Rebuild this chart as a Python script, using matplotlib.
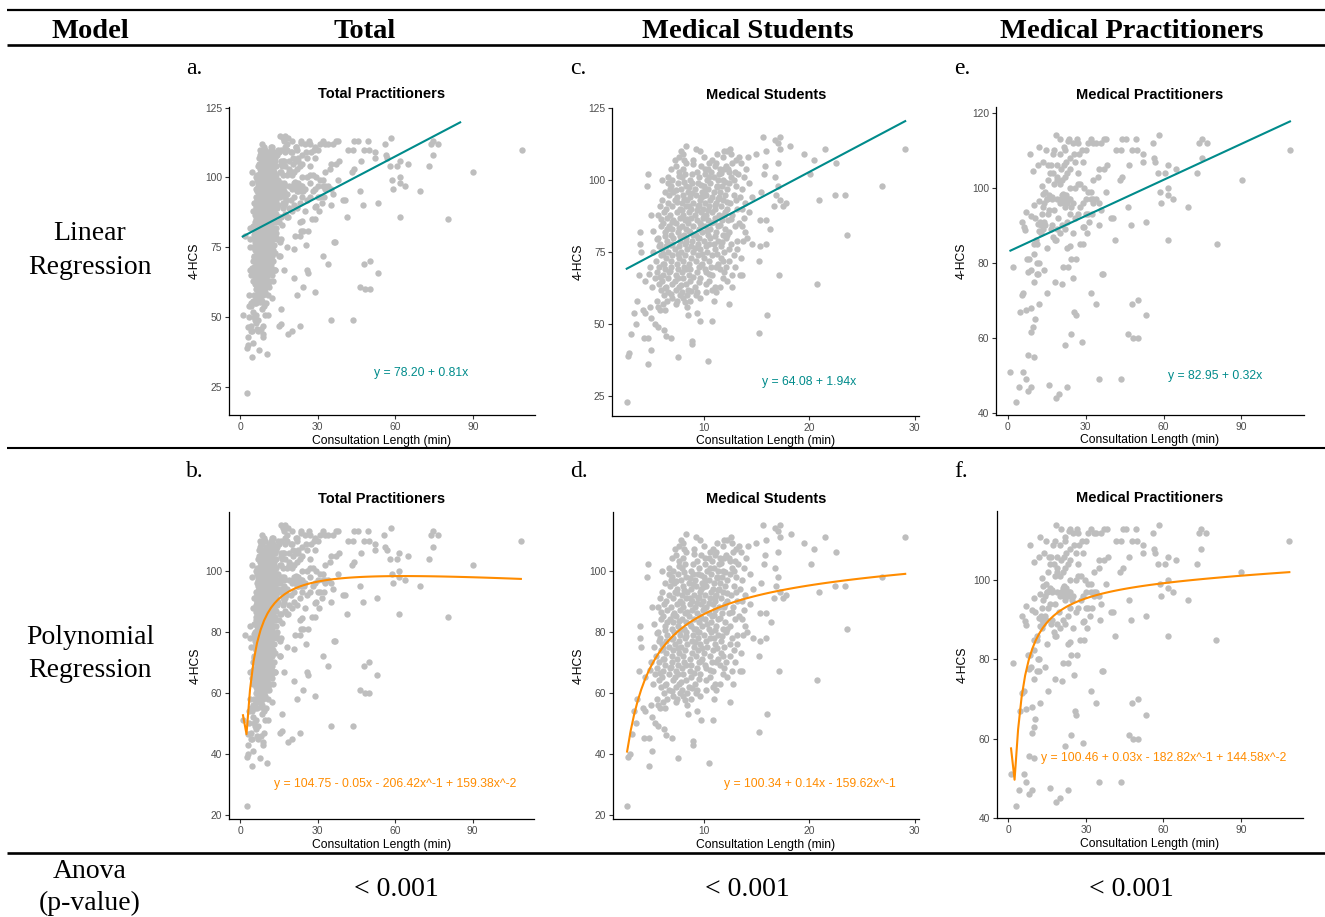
import numpy as np
import matplotlib
matplotlib.use("Agg")
import matplotlib.pyplot as plt

# ------------------------------------------------------------------ data
# Medical students: (consultation length [min], 4-HCS score)
students_pts = [
    (15.6, 115), (17.2, 115), (16.7, 114), (17.0, 113), (8.3, 112), (18.2, 112),
    (9.2, 111), (12.5, 111), (21.5, 111), (29.1, 111), (17.2, 111),
    (9.6, 110), (12.2, 110), (11.9, 110), (15.9, 110),
    (8.0, 109), (12.6, 109), (19.5, 109), (11.2, 109), (14.9, 109),
    (7.6, 108), (10.0, 108), (11.8, 108), (13.3, 108), (14.2, 108),
    (7.2, 107), (8.1, 107), (9.0, 107), (13.0, 107), (20.4, 107),
    (8.3, 106), (10.5, 106), (11.1, 106), (12.7, 106), (13.5, 106), (22.5, 106), (17.0, 106),
    (7.3, 105), (9.7, 105), (11.0, 105), (12.1, 105), (15.8, 105),
    (8.0, 104), (10.4, 104), (11.5, 104), (11.9, 104), (12.3, 104),
    (7.6, 103), (9.3, 103), (10.7, 103), (12.9, 103),
    (4.65, 102), (8.2, 102), (10.1, 102), (11.4, 102), (20.1, 102), (13.2, 102), (15.7, 102),
    (6.6, 101), (7.9, 101), (9.5, 101), (10.9, 101), (12.6, 101), (13.8, 101), (16.7, 101),
    (7.0, 100), (8.7, 100), (10.3, 100), (11.3, 100), (11.8, 100), (6.0, 100),
    (6.6, 99), (7.5, 99), (8.9, 99), (9.4, 99), (10.6, 99), (12.4, 99),
    (4.56, 98), (6.9, 98), (8.3, 98), (10.0, 98), (11.2, 98), (11.7, 98), (13.0, 98), (17.05, 98), (26.9, 98),
    (7.8, 97), (9.1, 97), (10.4, 97), (12.2, 97), (13.6, 97),
    (6.3, 96), (7.1, 96), (8.5, 96), (9.8, 96), (10.9, 96), (11.5, 96), (15.4, 96),
    (6.7, 95), (8.0, 95), (9.2, 95), (10.2, 95), (12.0, 95), (12.8, 95), (22.4, 95), (23.4, 95), (16.8, 95),
    (7.4, 94), (8.7, 94), (9.7, 94), (10.8, 94), (11.4, 94), (13.4, 94),
    (6.0, 93), (7.2, 93), (8.4, 93), (9.6, 93), (10.6, 93), (11.8, 93), (20.9, 93), (17.2, 93),
    (6.6, 92), (7.9, 92), (9.0, 92), (10.1, 92), (11.1, 92), (12.5, 92), (17.8, 92), (13.9, 92),
    (5.8, 91), (7.0, 91), (8.3, 91), (9.4, 91), (10.5, 91), (11.6, 91), (16.6, 91), (17.5, 91),
    (6.4, 90), (7.7, 90), (8.8, 90), (9.9, 90), (11.0, 90), (12.2, 90), (13.1, 90),
    (6.2, 89), (7.4, 89), (8.6, 89), (9.7, 89), (10.8, 89), (12.0, 89), (14.3, 89),
    (5.6, 88), (6.8, 88), (8.0, 88), (9.1, 88), (10.2, 88), (11.4, 88), (12.7, 88),
    (6.5, 87), (7.7, 87), (8.8, 87), (9.9, 87), (11.0, 87), (13.8, 87),
    (7.1, 86), (8.2, 86), (9.3, 86), (10.4, 86), (11.7, 86), (12.3, 86), (15.3, 86), (15.9, 86),
    (6.1, 85), (7.3, 85), (8.5, 85), (9.6, 85), (10.7, 85), (13.3, 85),
    (5.9, 84), (6.7, 84), (7.9, 84), (9.0, 84), (10.1, 84), (11.3, 84), (13.6, 84),
    (7.0, 83), (8.3, 83), (9.5, 83), (10.6, 83), (12.0, 83), (16.3, 83),
    (3.9, 82), (6.3, 82), (7.5, 82), (8.7, 82), (9.8, 82), (11.1, 82), (12.4, 82),
    (6.9, 81), (8.1, 81), (9.2, 81), (10.4, 81), (11.8, 81), (23.6, 81),
    (5.6, 80), (7.1, 80), (8.3, 80), (9.5, 80), (10.6, 80), (12.1, 80), (14.05, 80),
    (6.5, 79), (7.7, 79), (8.9, 79), (10.0, 79), (11.3, 79), (13.7, 79),
    (3.9, 78), (5.8, 78), (7.0, 78), (8.2, 78), (9.4, 78), (10.9, 78), (12.6, 78), (14.6, 78), (15.9, 78),
    (6.4, 77), (7.6, 77), (8.8, 77), (10.2, 77), (11.6, 77), (15.3, 77),
    (6.0, 76), (7.2, 76), (8.4, 76), (9.6, 76), (11.0, 76), (13.1, 76),
    (4.0, 75), (5.2, 75), (6.6, 75), (7.8, 75), (9.0, 75), (10.3, 75), (11.9, 75),
    (5.9, 74), (7.0, 74), (8.2, 74), (9.4, 74), (10.8, 74), (12.8, 74),
    (6.4, 73), (7.6, 73), (8.8, 73), (10.0, 73), (11.6, 73), (13.5, 73),
    (5.4, 72), (6.9, 72), (8.0, 72), (9.2, 72), (10.5, 72), (12.4, 72), (15.2, 72),
    (6.2, 71), (7.4, 71), (8.6, 71), (9.8, 71), (11.3, 71),
    (4.9, 70), (5.7, 70), (6.9, 70), (8.1, 70), (9.5, 70), (10.7, 70), (12.1, 70),
    (6.3, 69), (7.5, 69), (8.7, 69), (10.1, 69), (11.5, 69),
    (5.5, 68), (6.7, 68), (7.9, 68), (9.3, 68), (10.2, 68), (11.9, 68),
    (3.8, 67), (6.1, 67), (7.3, 67), (8.6, 67), (10.8, 67), (13.4, 67), (13.6, 67), (17.1, 67), (12.65, 67),
    (5.3, 66), (6.6, 66), (8.0, 66), (9.6, 66), (11.8, 66),
    (4.4, 65), (6.0, 65), (7.2, 65), (8.7, 65), (10.5, 65), (12.2, 65),
    (5.7, 64), (7.0, 64), (8.3, 64), (10.2, 64), (20.7, 64),
    (6.4, 63), (7.6, 63), (9.1, 63), (11.0, 63), (12.7, 63), (11.5, 63),
    (5.9, 62), (7.3, 62), (8.5, 62), (10.8, 62),
    (6.6, 61), (7.9, 61), (9.3, 61), (11.1, 61),
    (6.2, 60), (7.7, 60), (8.4, 60), (9.2, 60), (7.0, 59), (8.0, 59),
    (3.6, 58), (5.5, 58), (6.5, 58), (8.7, 58), (10.9, 58),
    (6.1, 57), (7.3, 57), (12.4, 57), (4.9, 56), (5.6, 56), (8.4, 56),
    (4.2, 55), (5.8, 55), (6.3, 55), (3.35, 54), (4.4, 54), (9.3, 54),
    (8.45, 53), (16.0, 53), (5.0, 52), (9.65, 51), (10.8, 51), (3.5, 50), (5.3, 50),
    (5.6, 49), (6.2, 48), (15.2, 47), (3.1, 46.5), (6.4, 46),
    (4.3, 45), (4.7, 45), (6.9, 45), (8.9, 44), (8.9, 43), (5.0, 41),
    (2.9, 40), (2.75, 39), (7.5, 38.5), (10.4, 37), (4.7, 36), (2.66, 23),
]

# Medical students, the dense core of the cloud
students_core_pts = [
    (6.8, 97), (7.4, 92.5), (8.1, 93.5), (8.6, 91), (9.3, 89.5), (9.9, 94.5), (10.4, 89.5),
    (11.0, 91.5), (7.0, 85.5), (7.6, 83.5), (8.4, 86.5), (9.0, 81), (9.7, 84.5), (10.3, 82.5),
    (11.0, 80.5), (11.5, 84.5), (6.3, 80.5), (6.9, 77.5), (7.5, 74.5), (8.3, 78.5), (9.1, 76.5),
    (9.8, 74.5), (10.5, 78), (11.2, 74.5), (6.1, 71), (6.8, 68.5), (7.5, 66), (8.3, 69),
    (9.0, 66.5), (9.7, 70.5), (10.5, 67.5), (7.8, 63.5), (8.8, 61.5), (9.5, 64.5), (7.3, 96.5),
    (8.1, 99.5), (8.9, 102), (9.7, 98.5), (10.5, 101), (11.2, 97.5), (12.0, 99.5), (9.0, 105.5),
    (10.1, 104), (10.8, 107), (11.6, 102.5), (12.4, 103), (7.9, 89.5), (8.9, 95.5), (10.1, 96.5),
    (11.3, 93.5), (12.2, 92.5), (12.6, 86.5), (11.9, 88), (12.9, 84), (12.2, 81), (11.7, 78.5),
    (12.4, 76), (11.8, 72), (11.1, 70), (6.5, 83), (5.9, 86.5), (5.5, 79.5), (5.7, 77),
    (6.1, 74.5), (5.2, 82.5), (5.0, 88), (4.8, 67.5), (5.1, 63), (5.8, 66.5), (6.3, 62.5),
    (6.9, 60.5), (7.4, 58), (8.2, 57.5), (9.6, 59), (10.2, 61), (9.4, 80), (8.6, 82.5),
    (7.7, 80.5), (10.9, 85.5), (10.0, 87.5), (9.5, 91.5), (8.6, 97.5), (7.6, 101.5), (6.9, 104),
    (7.8, 110), (13.0, 93), (13.6, 90), (12.8, 100), (14.0, 104), (13.1, 79), (12.9, 70),
    (13.9, 82), (14.6, 94), (14.3, 99),
]

# Medical practitioners: (consultation length [min], 4-HCS score)
practitioners_pts = [
    (1.05, 51), (1.9, 79), (3.1, 43), (4.2, 47), (4.7, 67), (5.4, 71.5), (6.0, 72), (5.4, 91),
    (6.0, 51), (6.3, 89.7), (6.7, 88.8), (7.0, 49), (7.0, 93.5), (7.0, 67.5), (7.6, 81), (8.3, 81),
    (7.9, 55.5), (8.0, 46), (8.5, 109), (8.0, 77.7), (8.9, 78), (9.0, 47), (9.0, 68), (9.0, 61.5),
    (9.9, 63), (10.1, 55), (9.1, 92.5), (10.1, 95.5), (9.9, 104.5), (10.1, 82.5), (10.1, 75),
    (10.5, 65), (10.1, 85), (11.2, 85), (11.4, 80), (11.2, 77), (11.8, 77), (12.1, 69), (12.1, 96.5),
    (11.8, 106), (12.1, 111), (11.8, 90.5), (12.2, 88.5), (13.1, 93), (13.1, 100.5), (13.5, 98.5),
    (14.1, 78), (13.7, 107), (14.6, 110), (15.0, 84), (15.0, 97), (15.3, 72), (15.7, 106),
    (16.0, 47.5), (16.3, 104), (16.9, 97.5), (17.3, 109), (18.2, 75), (18.2, 86), (18.6, 114),
    (18.6, 44), (18.9, 103), (19.9, 45), (20.2, 113), (20.9, 74.5), (21.2, 79), (21.4, 98.5),
    (21.8, 111), (22.1, 58), (23.0, 47), (23.1, 79), (23.4, 112.5), (23.7, 113), (24.0, 84.5),
    (24.3, 61), (24.3, 81), (25.3, 76), (25.7, 67), (26.2, 66), (26.4, 81), (26.6, 113),
    (27.3, 109), (27.9, 85), (29.1, 85), (28.8, 59), (28.9, 89.5), (29.4, 89.7), (29.5, 100),
    (30.0, 110), (30.8, 112), (32.0, 72), (33.9, 69), (35.2, 49), (35.3, 90), (34.9, 103),
    (35.9, 112), (36.2, 77), (36.8, 77), (37.9, 99), (38.4, 106), (39.7, 92), (40.4, 92),
    (41.3, 86), (41.6, 110), (43.5, 110), (43.6, 49), (43.3, 102), (44.2, 103), (44.2, 113),
    (45.6, 113), (46.5, 95), (46.6, 106), (46.5, 61), (47.4, 90), (48.0, 69), (48.4, 60),
    (50.0, 60), (50.0, 70), (48.0, 110), (49.4, 113), (49.7, 110), (52.1, 109), (52.1, 107),
    (53.1, 91), (53.1, 66), (55.8, 112), (56.2, 108), (56.7, 107), (58.0, 104), (58.4, 114),
    (58.7, 99), (59.1, 96), (60.6, 104), (61.6, 106), (61.6, 100), (61.6, 98), (61.6, 86),
    (63.8, 97), (64.8, 105), (69.6, 95), (73.0, 104), (73.7, 112), (74.7, 113), (74.7, 108),
    (76.6, 112), (80.5, 85), (90.1, 102), (108.7, 110),
    (13, 90), (13.5, 89), (14, 91), (14.5, 90), (15.5, 93), (16, 94), (16.5, 89), (17, 90),
    (17.5, 87), (18.5, 86), (19, 89), (19.5, 92), (20, 96), (20.5, 97), (21, 98), (21.5, 96),
    (22, 97), (22.5, 98), (23, 96), (23.5, 97), (20, 101), (21, 102), (22, 103), (23, 104),
    (24, 105), (19, 102), (18, 101), (17.5, 104), (16.5, 106), (15.5, 102), (14.5, 99),
    (13.5, 95), (20.5, 105), (21.5, 106), (22.5, 107), (24, 108), (25.5, 109), (26, 107),
    (27, 104), (28, 101), (29, 96), (30, 97), (31, 99), (32, 97), (33, 97), (28, 95), (27, 93),
    (26, 92), (25, 96), (24.5, 95), (24, 93), (23, 91), (22, 89), (21, 90), (20, 88), (18, 94),
    (17, 97), (16, 98), (15, 97), (14, 96), (28.5, 110), (32, 113), (33, 112), (34, 112),
    (37, 113), (38, 113), (25, 112), (22, 110), (20, 109), (18, 110), (19, 106), (24, 100),
    (26, 100), (27, 101), (25, 88), (23, 84), (30.5, 88), (31.5, 91), (30, 93), (32.5, 93),
    (35, 96), (34, 97), (36, 94), (37, 105), (35, 105), (33, 102), (29, 107), (27, 112),
    (11, 86), (12, 80), (10.5, 92), (12.5, 91), (13, 88), (19, 97), (22, 95), (24, 97),
    (31, 93), (32, 99), (33, 96),
]

students_x, students_y = np.array(students_pts + students_core_pts, dtype=float).T
pract_x, pract_y = np.array(practitioners_pts, dtype=float).T
total_x = np.concatenate([students_x, pract_x])
total_y = np.concatenate([students_y, pract_y])

# linear fits as drawn (intercept, slope, x-end) and printed labels
lin_total = (78.4, 0.486, 85.0)
lin_students = (64.08, 1.94, None)
lin_pract = (82.95, 0.32, None)
lin_labels = ["y = 78.20 + 0.81x", "y = 64.08 + 1.94x", "y = 82.95 + 0.32x"]

# polynomial fits: y = a + b x + c/x + d/x^2
poly_total = (104.75, -0.05, -206.42, 159.38)
poly_students = (100.34, 0.14, -159.62, 0.0)
poly_pract = (100.46, 0.03, -182.82, 144.58)
poly_labels = ["y = 104.75 - 0.05x - 206.42x^-1 + 159.38x^-2",
               "y = 100.34 + 0.14x - 159.62x^-1",
               "y = 100.46 + 0.03x - 182.82x^-1 + 144.58x^-2"]

panel_titles = ["Total Practitioners", "Medical Students", "Medical Practitioners"]
col_headers = ["Model", "Total", "Medical Students", "Medical Practitioners"]
row_labels = [["Linear", "Regression"], ["Polynomial", "Regression"], ["Anova", "(p-value)"]]
anova_p = ["< 0.001", "< 0.001", "< 0.001"]
letters_top = ["a.", "c.", "e."]
letters_bot = ["b.", "d.", "f."]

# ------------------------------------------------------------------ figure
W, H = 1325, 917
fig = plt.figure(figsize=(W / 100, H / 100), dpi=100)
fig.patch.set_facecolor("white")

SERIF = ["Liberation Serif", "DejaVu Serif"]
SANS = ["Liberation Sans", "DejaVu Sans"]

bg = fig.add_axes([0, 0, 1, 1])
bg.set_xlim(0, W)
bg.set_ylim(H, 0)
bg.axis("off")
for yy, lw in [(10, 1.6), (44.5, 1.9), (448, 1.5), (852.5, 1.9)]:
    bg.plot([7, W], [yy, yy], color="black", lw=lw, solid_capstyle="butt")

header_x = [90, 365, 748, 1132]
for hx, ht in zip(header_x, col_headers):
    bg.text(hx, 38.3, ht, ha="center", va="baseline", fontsize=20.5,
            fontweight="bold", family=SERIF)

row_baselines = [(240, 273.5), (643.5, 677), (878.5, 910.5)]
for (b1, b2), lab in zip(row_baselines, row_labels):
    bg.text(90, b1, lab[0], ha="center", va="baseline", fontsize=20, family=SERIF)
    bg.text(90, b2, lab[1], ha="center", va="baseline", fontsize=20, family=SERIF)

for px, pt in zip([396, 747, 1131], anova_p):
    bg.text(px, 896.5, pt, ha="center", va="baseline", fontsize=20, family=SERIF)

for lx, lt in zip([186, 570, 954], letters_top):
    bg.text(lx, 73.5, lt, ha="left", va="baseline", fontsize=17, family=SERIF)
for lx, lt in zip([186, 570, 954], letters_bot):
    bg.text(lx, 477, lt, ha="left", va="baseline", fontsize=17, family=SERIF)


def make_ax(L, R, T, B):
    return fig.add_axes([L / W, 1 - B / H, (R - L) / W, (B - T) / H])


TEAL = "#008B8B"
ORANGE = "#FF8C00"
GREY = "#BEBEBE"


def style(ax, title, xlim, ylim, xticks, yticks):
    ax.set_xlim(*xlim)
    ax.set_ylim(*ylim)
    ax.set_xticks(xticks)
    ax.set_yticks(yticks)
    for s in ["top", "right"]:
        ax.spines[s].set_visible(False)
    for s in ["left", "bottom"]:
        ax.spines[s].set_linewidth(0.9)
        ax.spines[s].set_color("black")
    ax.tick_params(length=2.9, width=0.8, color="#333333", labelsize=7.4,
                   labelcolor="#4D4D4D", pad=2)
    for lab in ax.get_xticklabels() + ax.get_yticklabels():
        lab.set_family(SANS)
    ax.set_title(title, fontsize=10.5, fontweight="bold", family=SANS, pad=6.3)
    ax.set_xlabel("Consultation Length (min)", fontsize=8.7, family=SANS, labelpad=2)
    ax.set_ylabel("4-HCS", fontsize=8.7, family=SANS, labelpad=3)
    ax.set_facecolor("none")


boxes_top = [(229, 535, 107, 415), (612.3, 919.3, 107.7, 415.7), (996, 1304, 107.3, 414.7)]
boxes_bot = [(229.3, 534.3, 511.7, 819), (612.7, 919.3, 511.7, 819.3), (996.7, 1303.3, 511, 818.3)]
xlims = [(-4.25, 113.9), (1.29, 30.44), (-4.5, 114.1)]
ylims_top = [(15.1, 125.2), (18.15, 125.2), (39.55, 121.5)]
ylims_bot = [(18.6, 119.5), (18.5, 119.3), (39.85, 117.5)]
xticks = [[0, 30, 60, 90], [10, 20, 30], [0, 30, 60, 90]]
yticks_top = [[25, 50, 75, 100, 125], [25, 50, 75, 100, 125], [40, 60, 80, 100, 120]]
yticks_bot = [[20, 40, 60, 80, 100], [20, 40, 60, 80, 100], [40, 60, 80, 100]]
datasets = [(total_x, total_y), (students_x, students_y), (pract_x, pract_y)]
lins = [lin_total, lin_students, lin_pract]
polys = [poly_total, poly_students, poly_pract]
lin_label_pos = [(70, 30), (20, 30), (80, 50)]
poly_label_pos = [(60, 30), (20, 30), (60, 55)]
DOT = 21

for i in range(3):
    x, y = datasets[i]
    # linear row
    ax = make_ax(*boxes_top[i])
    style(ax, panel_titles[i], xlims[i], ylims_top[i], xticks[i], yticks_top[i])
    ax.scatter(x, y, s=DOT, color=GREY, linewidths=0, zorder=2)
    a, b, xend = lins[i]
    xe = x.max() if xend is None else xend
    xl = np.linspace(x.min(), xe, 80)
    ax.plot(xl, a + b * xl, color=TEAL, lw=1.5, zorder=3)
    ax.text(*lin_label_pos[i], lin_labels[i], color=TEAL, fontsize=8.8,
            ha="center", va="center", family=SANS)
    # polynomial row
    ax = make_ax(*boxes_bot[i])
    style(ax, panel_titles[i], xlims[i], ylims_bot[i], xticks[i], yticks_bot[i])
    ax.scatter(x, y, s=DOT, color=GREY, linewidths=0, zorder=2)
    c0, c1, c2, c3 = polys[i]
    xp = np.linspace(x.min(), x.max(), 80)
    ax.plot(xp, c0 + c1 * xp + c2 / xp + c3 / xp ** 2, color=ORANGE, lw=1.5, zorder=3)
    ax.text(*poly_label_pos[i], poly_labels[i], color=ORANGE, fontsize=8.8,
            ha="center", va="center", family=SANS)

fig.savefig("out.png", dpi=100, facecolor="white")
